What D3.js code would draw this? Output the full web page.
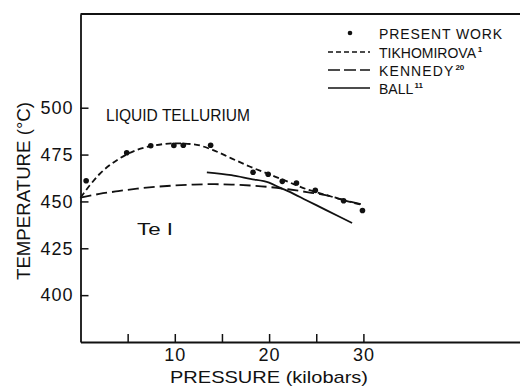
<!DOCTYPE html>
<html><head><meta charset="utf-8">
<script src="https://cdn.jsdelivr.net/npm/d3@7"></script>
<style>
html,body{margin:0;padding:0;background:#fff;}
svg{display:block;}
text{font-family:"Liberation Sans","DejaVu Sans",sans-serif;fill:#111;}
</style></head>
<body>
<svg id="chart" width="520" height="387"></svg>
<script>
// ---- data ----
const presentWorkP = [0.6, 4.9, 7.45, 9.9, 10.9, 13.8, 18.3, 19.9, 21.4, 22.9, 24.9, 27.9, 29.9];
const presentWorkT = [461, 476, 479.7, 479.9, 480, 480, 465.6, 464.5, 460.7, 459.8, 455.9, 450.4, 445.2];

const tikhomirovaP = [0, 2, 4, 6, 8, 10, 12, 14, 16, 18, 20, 22, 24, 26, 28, 30];
const tikhomirovaT = [452, 464.5, 472.5, 477.5, 480, 481, 480.5, 477.5, 473, 468.5, 464.5, 460.5, 456.5, 453.5, 450.5, 448];

const kennedyP = [0, 2, 4, 6, 8, 10, 12, 14, 16, 18, 20, 22, 24, 26, 28, 30];
const kennedyT = [452, 454, 455.5, 456.8, 457.8, 458.5, 459, 459.2, 459, 458.5, 457.7, 456.5, 455, 453.3, 450.7, 448.2];

const ballP = [13.4, 16, 18, 20, 21.2, 22, 24, 26, 28.8];
const ballT = [465.5, 464, 462, 460, 457.2, 455.5, 450.5, 445.5, 438.5];

const xTicks = [5, 10, 15, 20, 25, 30];
const xTickLabels = {10: "10", 20: "20", 30: "30"};
const yTicks = [400, 425, 450, 475, 500];

const legendLabels = ["PRESENT WORK", "TIKHOMIROVA", "KENNEDY", "BALL"];
const legendSups = ["", "1", "20", "11"];

// ---- drawing ----
const ink = "#111";
const svg = d3.select("#chart");
const x = d3.scaleLinear().domain([0, 50]).range([80.5, 552]);
const y = d3.scaleLinear().domain([375, 550]).range([342, 14]);

// frame top line
svg.append("line")
  .attr("x1", x(0)).attr("x2", 520).attr("y1", y(550)).attr("y2", y(550))
  .attr("stroke", ink).attr("stroke-width", 1.8);

const xAxis = d3.axisBottom(x).tickValues(xTicks).tickSizeInner(-8).tickSizeOuter(0)
  .tickPadding(6).tickFormat(d => xTickLabels[d] || "");
const gx = svg.append("g").attr("transform", `translate(0,${y(375)})`).call(xAxis);
const yAxis = d3.axisLeft(y).tickValues(yTicks).tickSizeInner(-8).tickSizeOuter(0).tickPadding(7);
const gy = svg.append("g").attr("transform", `translate(${x(0)},0)`).call(yAxis);
[gx, gy].forEach(g => {
  g.select(".domain").attr("stroke", ink).attr("stroke-width", 1.8);
  g.selectAll(".tick line").attr("stroke", ink).attr("stroke-width", 1.5);
  g.selectAll(".tick text").attr("font-size", 18).attr("fill", ink)
    .style("font-family", '"Liberation Sans","DejaVu Sans",sans-serif').attr("letter-spacing", 1);
});

// axis titles
svg.append("text").attr("x", 269).attr("y", 383).attr("text-anchor", "middle")
  .attr("font-size", 17).attr("textLength", 198).attr("lengthAdjust", "spacingAndGlyphs")
  .text("PRESSURE  (kilobars)");
svg.append("text").attr("transform", "translate(30,191) rotate(-90)").attr("text-anchor", "middle")
  .attr("font-size", 18).attr("textLength", 178).attr("lengthAdjust", "spacingAndGlyphs")
  .text("TEMPERATURE (°C)");

// region labels
svg.append("text").attr("x", 106).attr("y", 121).attr("font-size", 16)
  .attr("textLength", 144).attr("lengthAdjust", "spacingAndGlyphs").text("LIQUID TELLURIUM");
svg.append("text").attr("x", 137).attr("y", 235).attr("font-size", 16)
  .attr("textLength", 36).attr("lengthAdjust", "spacingAndGlyphs").text("Te I");

// lines
const line = d3.line().x(d => x(d[0])).y(d => y(d[1])).curve(d3.curveMonotoneX);
const zip = (a, b) => a.map((v, i) => [v, b[i]]);
svg.append("path").datum(zip(kennedyP, kennedyT)).attr("d", line)
  .attr("fill", "none").attr("stroke", ink).attr("stroke-width", 1.8).attr("stroke-dasharray", "11,5");
svg.append("path").datum(zip(tikhomirovaP, tikhomirovaT)).attr("d", line)
  .attr("fill", "none").attr("stroke", ink).attr("stroke-width", 1.8).attr("stroke-dasharray", "6,3.5");
svg.append("path").datum(zip(ballP, ballT)).attr("d", line)
  .attr("fill", "none").attr("stroke", ink).attr("stroke-width", 1.8);

// points
svg.append("g").selectAll("circle").data(zip(presentWorkP, presentWorkT)).join("circle")
  .attr("cx", d => x(d[0])).attr("cy", d => y(d[1])).attr("r", 2.8).attr("fill", ink);

// legend
const lg = svg.append("g");
const rowY = [33, 52, 70, 88];
const spacing = [0.9, 0, 1.1, 0];
legendLabels.forEach((lab, i) => {
  const ry = rowY[i];
  if (i === 0) {
    lg.append("circle").attr("cx", 350).attr("cy", ry).attr("r", 2.3).attr("fill", ink);
  } else {
    lg.append("line").attr("x1", 328).attr("x2", 370).attr("y1", ry).attr("y2", ry)
      .attr("stroke", ink).attr("stroke-width", i === 1 ? 1.4 : 1.6)
      .attr("stroke-dasharray", i === 1 ? "5,3" : i === 2 ? "12,4" : null);
  }
  const t = lg.append("text").attr("x", 379).attr("y", ry + 6).attr("font-size", 14)
    .attr("letter-spacing", spacing[i]).text(lab);
  if (legendSups[i]) {
    const w = t.node().getBBox().width;
    lg.append("text").attr("x", 379 + w + 1).attr("y", ry)
      .attr("font-size", 8).attr("font-weight", "bold").text(legendSups[i]);
  }
});
</script>
</body></html>
